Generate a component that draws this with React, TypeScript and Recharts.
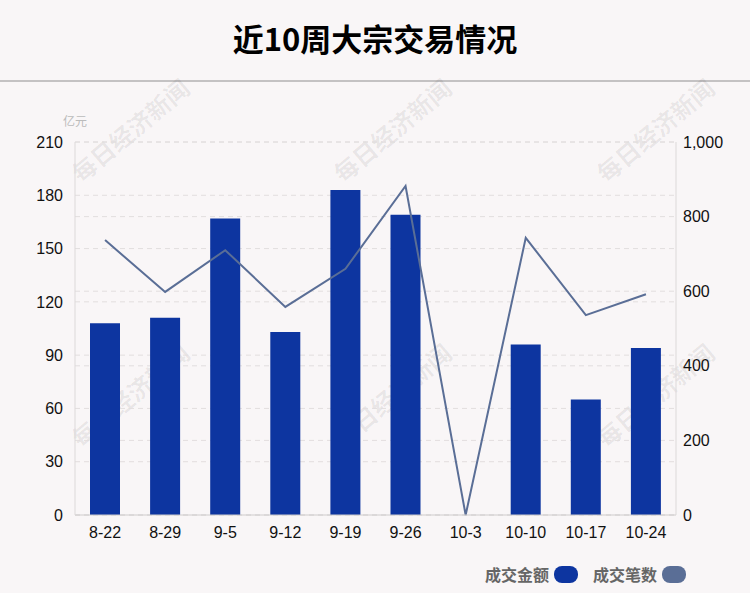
import React from "react";
import { ComposedChart, Bar, Line, XAxis, YAxis, CartesianGrid } from "recharts";

const categories = ["8-22", "8-29", "9-5", "9-12", "9-19", "9-26", "10-3", "10-10", "10-17", "10-24"];
const amountValues = [108, 111, 167, 103, 183, 169, 0, 96, 65, 94];
const countValues = [737, 598, 710, 558, 660, 882, 0, 743, 536, 592];
const leftTicks = [0, 30, 60, 90, 120, 150, 180, 210];
const rightTicks = [0, 200, 400, 600, 800, 1000];

const data = categories.map((c, i) => ({ name: c, amount: amountValues[i], count: countValues[i] }));

const BG = "#f9f6f7";
const BAR = "#0d35a0";
const LINE = "#5a6e96";
const NUM_FONT = "'Liberation Sans', Arial, sans-serif";
const CJK_FONT = "'Noto Sans CJK SC', 'Noto Sans', sans-serif";

const watermarks = [
  [130, 130], [392, 130], [655, 130],
  [130, 395], [392, 395], [655, 395],
];

export default function App() {
  return (
    <div style={{ position: "absolute", left: 0, top: 0, width: 750, height: 593, background: BG, overflow: "hidden" }}>
      <div style={{ position: "absolute", left: 0, top: 14, width: 750, textAlign: "center", fontFamily: CJK_FONT, fontWeight: 700, fontSize: 31, color: "#000", lineHeight: "48px" }}>
        近10周大宗交易情况
      </div>
      <div style={{ position: "absolute", left: 0, top: 80, width: 750, height: 2, background: "#c4c2c3" }} />
      {watermarks.map(([x, y], i) => (
        <div key={i} style={{ position: "absolute", left: x - 80, top: y - 16, width: 160, textAlign: "center", transform: "rotate(-40deg)", fontFamily: CJK_FONT, fontWeight: 700, fontSize: 24, color: "rgba(0,0,0,0.07)", lineHeight: "32px" }}>
          每日经济新闻
        </div>
      ))}
      <div style={{ position: "absolute", left: 63, top: 112, fontFamily: CJK_FONT, fontSize: 12, color: "#bbb" }}>亿元</div>
      <div style={{ position: "absolute", left: 0, top: 0 }}>
        <ComposedChart width={750} height={593} data={data} margin={{ top: 142, right: 0, bottom: 48, left: 0 }} barCategoryGap="25%">
          <CartesianGrid yAxisId="left" vertical={false} stroke="#e2dede" strokeDasharray="5 4" />
          <CartesianGrid yAxisId="right" vertical={false} stroke="#e2dede" strokeDasharray="5 4" />
          <XAxis dataKey="name" height={30} tickLine={false} axisLine={{ stroke: "#cfcccc" }} tick={{ fill: "#111", fontSize: 16, fontFamily: NUM_FONT }} tickMargin={6} interval={0} />
          <YAxis yAxisId="left" width={75} domain={[0, 210]} ticks={leftTicks} tickLine={false} axisLine={{ stroke: "#dcd9d9" }} tick={{ fill: "#111", fontSize: 16, fontFamily: NUM_FONT }} tickMargin={6} />
          <YAxis yAxisId="right" orientation="right" width={74} domain={[0, 1000]} ticks={rightTicks} tickLine={false} axisLine={{ stroke: "#dcd9d9" }} tick={{ fill: "#111", fontSize: 16, fontFamily: NUM_FONT }} tickMargin={1} tickFormatter={(v: number) => v.toLocaleString("en-US")} />
          <Bar yAxisId="left" dataKey="amount" fill={BAR} barSize={30} isAnimationActive={false} />
          <Line yAxisId="right" type="linear" dataKey="count" stroke={LINE} strokeWidth={2} dot={false} activeDot={false} isAnimationActive={false} />
        </ComposedChart>
      </div>
      <div style={{ position: "absolute", left: 485, top: 562, display: "flex", alignItems: "center", fontFamily: CJK_FONT, fontWeight: 700, fontSize: 16, color: "#666", lineHeight: "24px" }}>
        <span>成交金额</span>
        <span style={{ display: "inline-block", width: 24, height: 17, borderRadius: 8, background: BAR, marginLeft: 5 }} />
        <span style={{ marginLeft: 15 }}>成交笔数</span>
        <span style={{ display: "inline-block", width: 24, height: 17, borderRadius: 8, background: LINE, marginLeft: 5 }} />
      </div>
    </div>
  );
}
